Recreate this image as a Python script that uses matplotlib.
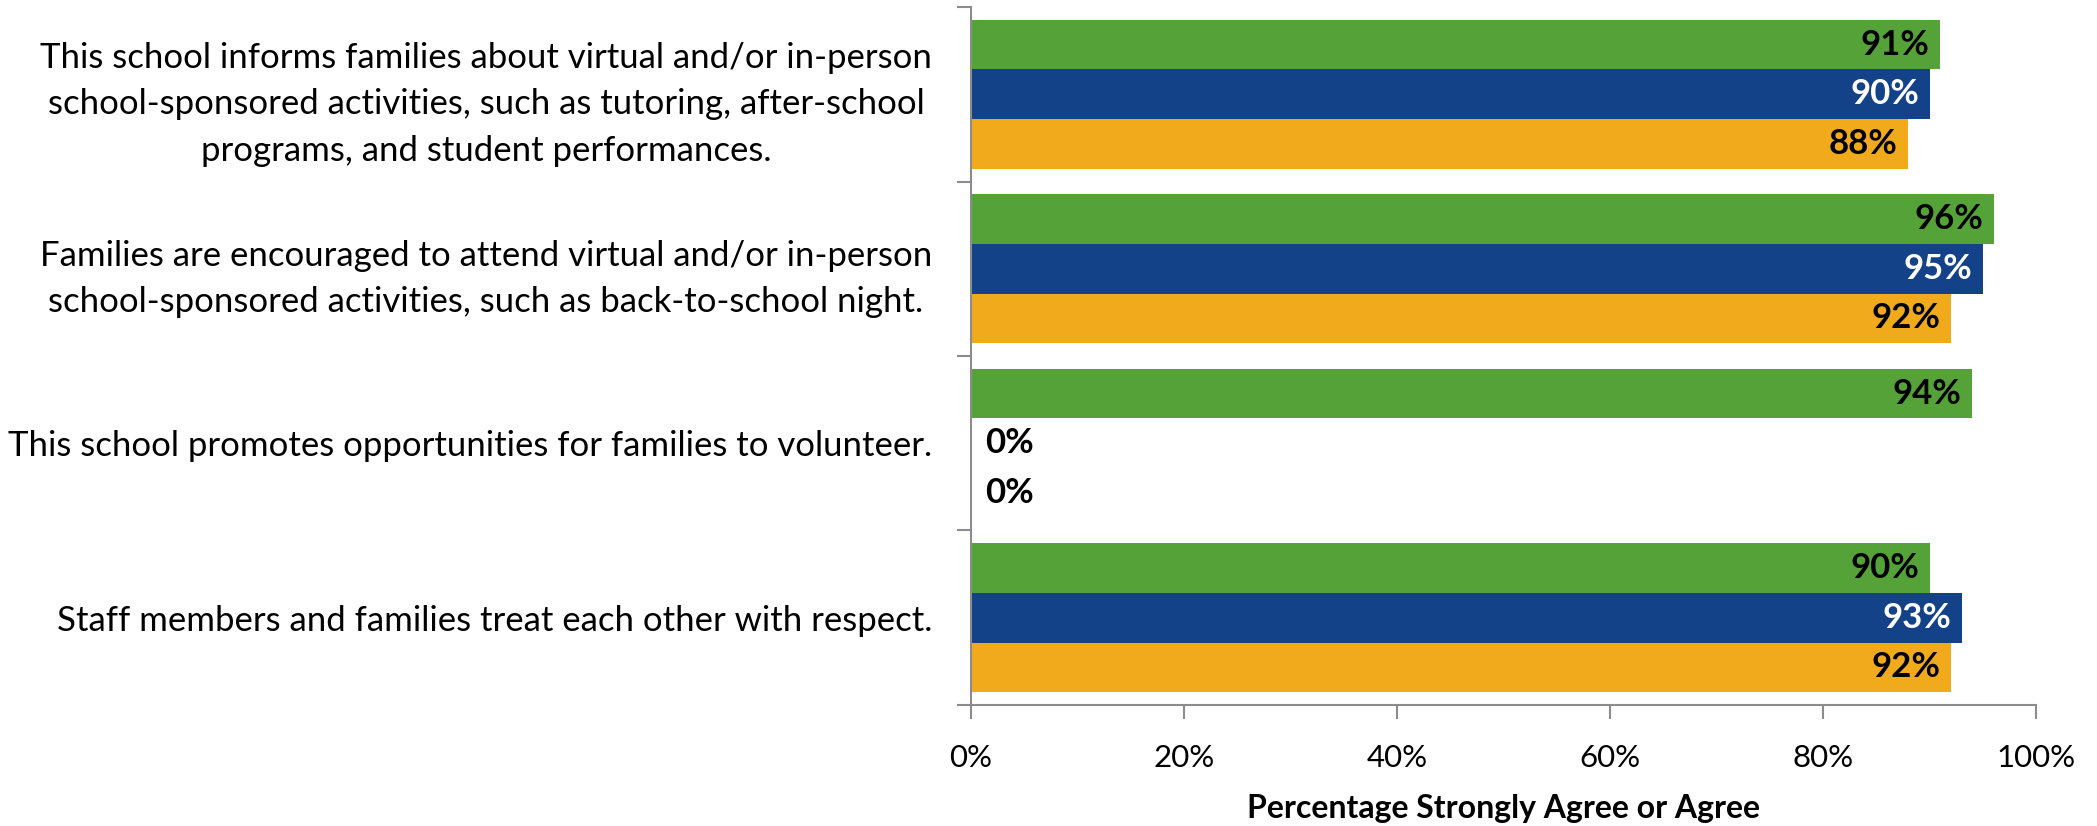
import matplotlib.pyplot as plt
import numpy as np

plt.rcParams['font.family'] = ['Lato', 'DejaVu Sans']

categories = [
    'This school informs families about virtual and/or in-person\nschool-sponsored activities, such as tutoring, after-school\nprograms, and student performances.',
    'Families are encouraged to attend virtual and/or in-person\nschool-sponsored activities, such as back-to-school night.',
    'This school promotes opportunities for families to volunteer.',
    'Staff members and families treat each other with respect.',
]
green_vals = [91, 96, 94, 90]
blue_vals = [90, 95, 0, 93]
orange_vals = [88, 92, 0, 92]
x_ticks = [0, 20, 40, 60, 80, 100]

green = '#55A239'
blue = '#134289'
orange = '#F0AA1C'
axis_gray = '#8C8C8C'

fig = plt.figure(figsize=(20.97, 8.26), dpi=100)
ax = fig.add_axes([0.463, 0.1465, 0.508, 0.845])

y = np.arange(len(categories))
h = 0.284
series = [(green_vals, green, -h, 'black'),
          (blue_vals, blue, 0, 'white'),
          (orange_vals, orange, h, 'black')]

for vals, color, off, tcolor in series:
    bars = ax.barh(y + off, vals, height=h, color=color)
    for b, v in zip(bars, vals):
        yc = b.get_y() + b.get_height() / 2
        if v == 0:
            ax.text(1.3, yc, f'{v}%', ha='left', va='center',
                    fontsize=25, fontweight='bold', color='black')
        else:
            ax.text(v - 1.0, yc, f'{v}%', ha='right', va='center',
                    fontsize=25, fontweight='bold', color=tcolor)

ax.set_xlim(0, 100)
ax.set_ylim(3.5, -0.5)

ax.set_xticks(x_ticks)
ax.set_xticklabels([f'{t}%' for t in x_ticks], fontsize=22.5)
ax.tick_params(axis='x', length=10, color=axis_gray, width=1.5, pad=18)

# group boundary ticks as major, category labels on minor
ax.set_yticks(np.arange(-0.5, 4, 1))
ax.set_yticklabels([])
ax.set_yticks(y, minor=True)
ax.set_yticklabels(categories, minor=True, fontsize=25,
                   multialignment='center', linespacing=1.55)
ax.tick_params(axis='y', which='major', length=10, color=axis_gray, width=1.5)
ax.tick_params(axis='y', which='minor', length=0, pad=28)

for s in ['top', 'right']:
    ax.spines[s].set_visible(False)
for s in ['left', 'bottom']:
    ax.spines[s].set_color(axis_gray)
    ax.spines[s].set_linewidth(1.5)

ax.set_xlabel('Percentage Strongly Agree or Agree', fontsize=23,
              fontweight='bold', labelpad=16)

fig.savefig('out.png', dpi=100)
